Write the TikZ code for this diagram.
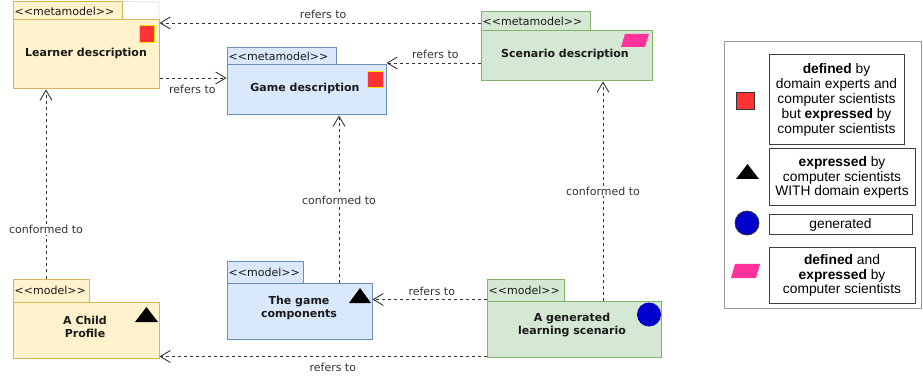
\documentclass[tikz,border=0pt]{standalone}
\usepackage{fontspec}
\newfontfamily\dv{DejaVu Sans}[Ligatures=TeXOff]
\newfontfamily\lib{Liberation Sans}[Ligatures=TeXOff]
\usetikzlibrary{arrows.meta,shapes.geometric}
\definecolor{yelfill}{HTML}{FFF2CC}
\definecolor{yeldraw}{HTML}{D6B656}
\definecolor{blufill}{HTML}{DAE8FC}
\definecolor{bludraw}{HTML}{6C8EBF}
\definecolor{grnfill}{HTML}{D5E8D4}
\definecolor{grndraw}{HTML}{82B366}
\definecolor{iconred}{HTML}{FF3333}
\definecolor{iconyel}{HTML}{FFE600}
\definecolor{iconpink}{HTML}{FF3399}
\definecolor{iconblue}{HTML}{0000CC}
\definecolor{txt}{HTML}{1A1A1A}
\definecolor{lnk}{HTML}{333333}
\tikzset{
  pkg/.style={rectangle, inner sep=0pt, line width=1pt},
  yel/.style={pkg, draw=yeldraw, fill=yelfill},
  blu/.style={pkg, draw=bludraw, fill=blufill},
  grn/.style={pkg, draw=grndraw, fill=grnfill},
  stereo/.style={label={[anchor=west, inner sep=2pt, text=txt, font=\dv\fontsize{11pt}{13pt}\selectfont]west:{#1}}},
  btxt/.style={align=center, text=txt, inner sep=0pt, font=\dv\bfseries\fontsize{11pt}{13pt}\selectfont},
  ref/.style={draw=lnk, line width=0.9pt, dash pattern=on 3pt off 3pt, -{Straight Barb[length=10pt,width=12pt,line width=0.9pt]}},
  lbl/.style={text=lnk, inner sep=1pt, font=\dv\fontsize{11pt}{13pt}\selectfont},
  lgbox/.style={rectangle, draw=black!75, line width=1pt, inner sep=0pt, align=center, font=\lib\fontsize{13.8pt}{14.8pt}\selectfont},
  sqicon/.style={rectangle, inner sep=0pt, fill=iconred, line width=0.8pt},
}
\begin{document}
\begin{tikzpicture}[x=1pt,y=-1pt]
\useasboundingbox (0,0) rectangle (923,379);

% ---------------- packages ----------------
\node[yel, minimum width=109pt, minimum height=18pt, stereo={<<metamodel>>}] (learnertab) at (67.5,11) {};
\draw[black!12, line width=0.8pt] (learnertab.north east) -- (159,2) -- (159,20);
\node[yel, minimum width=146pt, minimum height=69pt] (learner) at (86,54.5) {};
\node[btxt] (learnertxt) at (86,53) {Learner description};
\node[sqicon, draw=iconyel, minimum width=15pt, minimum height=17pt] (learnersq) at (146.5,33.5) {};

\node[blu, minimum width=109pt, minimum height=17pt, stereo={<<metamodel>>}] (gametab) at (281.5,56.5) {};
\node[blu, minimum width=159pt, minimum height=50pt] (game) at (306.5,90) {};
\node[btxt] (gametxt) at (305,88) {Game description};
\node[sqicon, draw=iconyel, minimum width=16pt, minimum height=16pt] (gamesq) at (375,79) {};

\node[grn, minimum width=109pt, minimum height=19pt, stereo={<<metamodel>>}] (scentab) at (535.5,21.5) {};
\node[grn, minimum width=171pt, minimum height=50pt] (scen) at (566.5,56) {};
\node[btxt] (scentxt) at (565,54) {Scenario description};
\fill[iconpink] (621,47) -- (625,34) -- (649,34) -- (645,47) -- cycle;

\node[yel, minimum width=76pt, minimum height=23pt, stereo={<<model>>}] (childtab) at (51,290.5) {};
\node[yel, minimum width=146pt, minimum height=56pt] (child) at (86,330) {};
\node[btxt] (childtxt) at (85,326.5) {A Child\\Profile};
\fill[black] (146.5,307) -- (158,322) -- (135,322) -- cycle;

\node[blu, minimum width=76pt, minimum height=21pt, stereo={<<model>>}] (comptab) at (265,272.5) {};
\node[blu, minimum width=145pt, minimum height=56pt] (comp) at (299.5,311) {};
\node[btxt] (comptxt) at (299,307.5) {The game\\components};
\fill[black] (360,288) -- (371,303) -- (349,303) -- cycle;

\node[grn, minimum width=77pt, minimum height=22pt, stereo={<<model>>}] (gentab) at (525.5,290) {};
\node[grn, minimum width=174pt, minimum height=56pt] (gen) at (574,329) {};
\node[btxt] (gentxt) at (572,325.5) {A generated\\learning scenario};
\node[circle, fill=iconblue, inner sep=0pt, minimum size=24pt] (gencirc) at (649,314.5) {};

% ---------------- connectors ----------------
\draw[ref] ([yshift=-1.5pt]scentab.west) coordinate (p1) -- (p1 -| learner.east)
  node[lbl, above=2.5pt, pos=0.49] {refers to};
\draw[ref] ([yshift=-7pt]scen.west) coordinate (p2) -- (p2 -| game.east)
  node[lbl, above=2.5pt, pos=0.48] {refers to};
\draw[ref] ([yshift=-23.5pt]learner.east) coordinate (p3) -- (p3 -| game.west)
  node[lbl, below=5.5pt, pos=0.49] {refers to};
\coordinate (p4) at ([xshift=-40pt]learner.south);
\draw[ref] (p4 |- childtab.north) -- (p4)
  node[lbl, fill=white, pos=0.26] {conformed to};
\coordinate (p5) at ([xshift=32.5pt]game.south);
\draw[ref] (p5 |- comp.north) -- (p5)
  node[lbl, fill=white, pos=0.49] {conformed to};
\coordinate (p6) at ([xshift=36.5pt]scen.south);
\draw[ref] (p6 |- gen.north) -- (p6)
  node[lbl, fill=white, pos=0.5] {conformed to};
\draw[ref] ([yshift=-9.5pt]gentab.west) coordinate (p7) -- (p7 -| comp.east)
  node[lbl, above=2.5pt, pos=0.48] {refers to};
\draw[ref] ([yshift=1pt]gen.south west) coordinate (p8) -- (p8 -| child.east)
  node[lbl, below=5.5pt, pos=0.47] {refers to};

% ---------------- legend ----------------
\node[rectangle, draw=black!40, line width=1pt, inner sep=0pt, minimum width=197pt, minimum height=266pt] (legend) at (822.5,175) {};
\node[lgbox, minimum width=135pt, minimum height=90pt] (lg1) at (836.5,100)
  {\textbf{defined} by\\domain experts and\\computer scientists\\but \textbf{expressed} by\\computer scientists};
\node[sqicon, draw=black!80, minimum width=18pt, minimum height=17pt] (lgsq) at (745,100.5) {};
\node[lgbox, minimum width=146pt, minimum height=57pt] (lg2) at (842,177.5)
  {\textbf{expressed} by\\computer scientists\\WITH domain experts};
\fill[black] (747.5,164) -- (759,179) -- (736,179) -- cycle;
\node[lgbox, minimum width=143pt, minimum height=20pt] (lg3) at (840.5,225) {generated};
\node[circle, fill=iconblue, draw=black!80, line width=0.8pt, inner sep=0pt, minimum size=24pt] (lgcirc) at (747,223) {};
\node[lgbox, minimum width=146pt, minimum height=55pt] (lg4) at (842,275.5)
  {\textbf{defined} and\\\textbf{expressed} by\\computer scientists};
\fill[iconpink] (731,278) -- (735,264) -- (760,264) -- (756,278) -- cycle;
\end{tikzpicture}
\end{document}
